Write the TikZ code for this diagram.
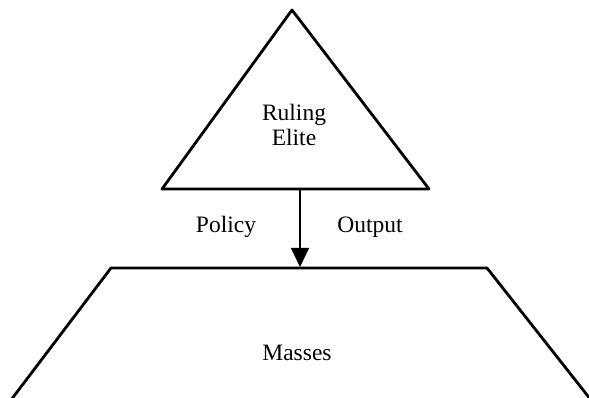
\documentclass[tikz,border=0pt]{standalone}
\usepackage{fontspec}
\setmainfont{Liberation Serif}
\usetikzlibrary{arrows.meta}

\begin{document}
\begin{tikzpicture}[x=1pt,y=-1pt]
\useasboundingbox (0,0) rectangle (589,398);
\tikzset{edge/.style={line width=2.8pt,line join=round}, lbl/.style={font=\fontsize{23.5}{25}\selectfont}}

% elite triangle
\coordinate (apex) at (292,10);
\coordinate (tl) at (162,189);
\coordinate (tr) at (429,189);
\draw[edge] (apex) -- (tl) -- (tr) -- cycle;
\node[lbl,align=center,inner sep=0pt] (elite) at (294,125) {Ruling\\Elite};

% masses trapezoid
\coordinate (ml) at (111,268);
\coordinate (mr) at (487,268);
\draw[edge] (11,400) -- (ml) -- (mr) -- (591,400);
\node[lbl,anchor=base,inner sep=0pt] (masses) at (297,360) {Masses};

% policy output arrow
\coordinate (top) at (300,189);
\coordinate (bot) at (300,267);
\draw[line width=1.3pt,-{Triangle[length=19pt,width=18pt]}] (top) -- (bot);
\node[lbl,anchor=base,inner sep=0pt] (policy) at (226,233) {Policy};
\node[lbl,anchor=base,inner sep=0pt] (output) at (370,233) {Output};
\end{tikzpicture}
\end{document}
